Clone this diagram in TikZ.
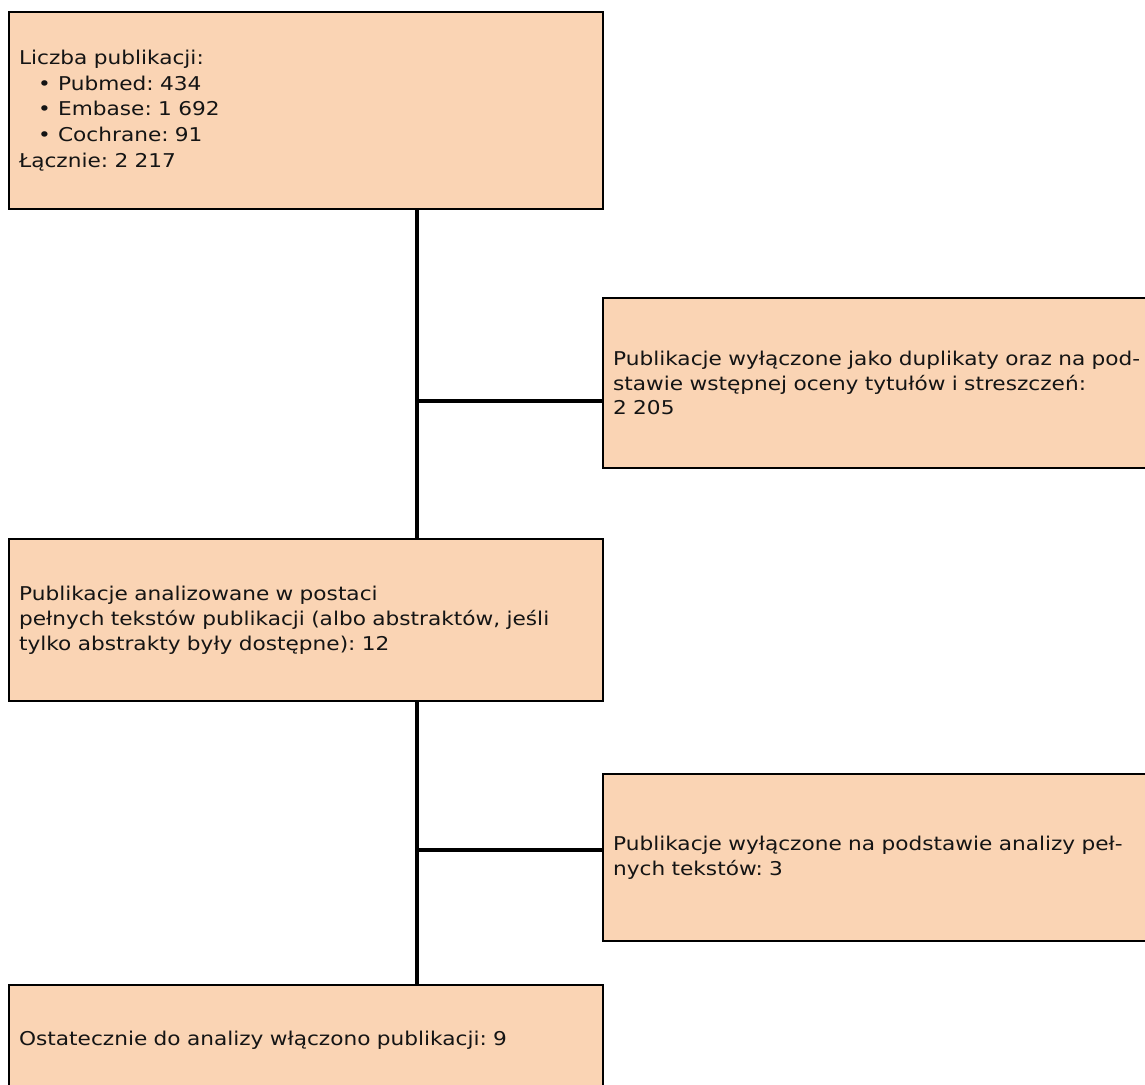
\documentclass[tikz,border=0pt]{standalone}
\usepackage{fontspec}
\setmainfont{DejaVu Sans}[FakeStretch=1.14]
\definecolor{boxfill}{RGB}{250,212,180}
\definecolor{txt}{RGB}{20,20,20}
\begin{document}
\frenchspacing
\begin{tikzpicture}[x=1pt,y=-1pt,
  fbox/.style={draw=black, line width=2.2pt, fill=boxfill, text=txt,
    inner xsep=10pt, inner ysep=0pt, align=left, anchor=north west,
    font=\fontsize{19}{24.7}\selectfont},
  conn/.style={draw=black, line width=4pt}]
\useasboundingbox (0,0) rectangle (1145,1084);
\clip (0,0) rectangle (1145,1084);
\node[fbox, text width=574pt, minimum height=197pt,
  font=\fontsize{19}{25.8}\selectfont] (b1) at (8,11)
  {Liczba publikacji:\\
   \hspace*{19pt}\makebox[20pt][l]{•}Pubmed: 434\\
   \hspace*{19pt}\makebox[20pt][l]{•}Embase: 1 692\\
   \hspace*{19pt}\makebox[20pt][l]{•}Cochrane: 91\\
   Łącznie: 2 217};
\node[fbox, text width=600pt, minimum height=170pt] (b2) at (602,297)
  {Publikacje wyłączone jako duplikaty oraz na pod-\\
   stawie wstępnej oceny tytułów i streszczeń:\\
   2 205};
\node[fbox, text width=574pt, minimum height=162pt] (b3) at (8,538)
  {Publikacje analizowane w postaci\\
   pełnych tekstów publikacji (albo abstraktów, jeśli\\
   tylko abstrakty były dostępne): 12};
\node[fbox, text width=600pt, minimum height=167pt] (b4) at (602,773)
  {Publikacje wyłączone na podstawie analizy peł-\\
   nych tekstów: 3};
\node[fbox, text width=574pt, minimum height=110pt] (b5) at (8,984)
  {Ostatecznie do analizy włączono publikacji: 9};
\coordinate (t1) at (416.5,400.5);
\coordinate (t2) at (416.5,849.5);
\draw[conn] (b1.south -| t1) -- (b3.north -| t1);
\draw[conn] (t1) -- (t1 -| b2.west);
\draw[conn] (b3.south -| t2) -- (b5.north -| t2);
\draw[conn] (t2) -- (t2 -| b4.west);
\end{tikzpicture}
\end{document}
